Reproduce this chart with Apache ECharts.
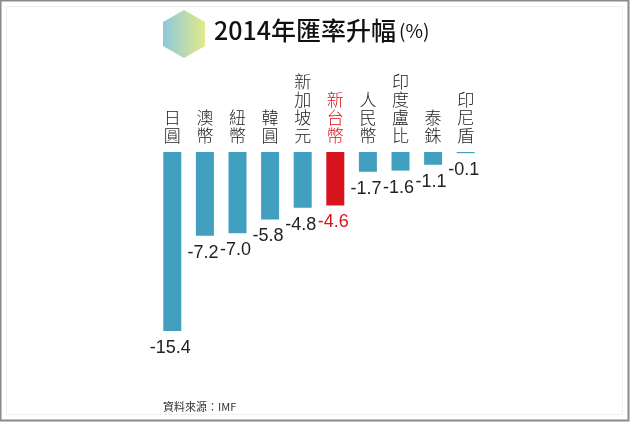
<!DOCTYPE html>
<html>
<head>
<meta charset="utf-8">
<script src="https://cdn.jsdelivr.net/npm/echarts@6.0.0/dist/echarts.min.js"></script>
<style>
    html, body { margin: 0; padding: 0; background: #fff; }
    #chart { width: 630px; height: 422px; }
</style>
</head>
<body>
<div id="chart"></div>
<script>
// 2014 currency change vs USD (%), source IMF
const currencies = ["日圓", "澳幣", "紐幣", "韓圓", "新加坡元", "新台幣", "人民幣", "印度盧比", "泰銖", "印尼盾"];
const changes = [-15.4, -7.2, -7.0, -5.8, -4.8, -4.6, -1.7, -1.6, -1.1, -0.1];
const highlight = "新台幣";

const BLUE = "#41a0bf";
const RED = "#d8141e";
const CJK = "'Noto Sans CJK TC', 'Noto Sans', sans-serif";

const chart = echarts.init(document.getElementById("chart"), null, { renderer: "canvas" });

chart.setOption({
    animation: false,
    backgroundColor: "#fff",
    grid: { left: 156, top: 152, width: 326, height: 179 },
    xAxis: {
        type: "category",
        position: "top",
        data: currencies.map(name => ({
            value: name,
            textStyle: { color: name === highlight ? RED : "#222" },
        })),
        axisLine: { show: false },
        axisTick: { show: false },
        axisLabel: {
            interval: 0,
            margin: 7,
            fontFamily: CJK,
            fontWeight: 300,
            fontSize: 17,
            lineHeight: 18,
            formatter: v => v.split("").join("\n"),
        },
    },
    yAxis: {
        type: "value",
        min: -15.4,
        max: 0,
        show: false,
        splitLine: { show: false },
    },
    series: [{
        type: "bar",
        barWidth: 18,
        data: changes.map((v, i) => ({
            value: v,
            itemStyle: { color: currencies[i] === highlight ? RED : BLUE },
            label: { color: currencies[i] === highlight ? RED : "#222" },
        })),
        label: {
            show: true,
            position: "bottom",
            distance: 8,
            offset: [-2, 0],
            fontFamily: "'Liberation Sans', Arial, sans-serif",
            fontSize: 18,
            formatter: p => p.value.toFixed(1),
        },
    }],
    graphic: [
        // outer frame
        { type: "rect", shape: { x: 0.5, y: 0.5, width: 628, height: 420 },
          style: { fill: null, stroke: "#8a8a8a", lineWidth: 2 }, silent: true },
        { type: "rect", shape: { x: 6.5, y: 6.5, width: 616, height: 408 },
          style: { fill: null, stroke: "#f0f0f0", lineWidth: 1 }, silent: true },
        // hexagon badge
        {
            type: "polygon",
            shape: {
                points: [[184, 10], [205, 22], [205, 46], [184, 58], [163, 46], [163, 22]],
            },
            style: {
                fill: new echarts.graphic.LinearGradient(0, 0, 1, 0, [
                    { offset: 0, color: "#8ec8de" },
                    { offset: 1, color: "#e0ea88" },
                ]),
            },
            silent: true,
        },
        {
            type: "text", left: 214, top: 18,
            style: { text: "2014年匯率升幅", font: "500 25px " + CJK, fill: "#111" },
        },
        {
            type: "text", left: 399, top: 21,
            style: { text: "(%)", font: "19px " + CJK, fill: "#111" },
        },
        {
            type: "text", left: 163, top: 401,
            style: { text: "資料來源：IMF", font: "11px " + CJK, fill: "#333" },
        },
    ],
});
</script>
</body>
</html>
